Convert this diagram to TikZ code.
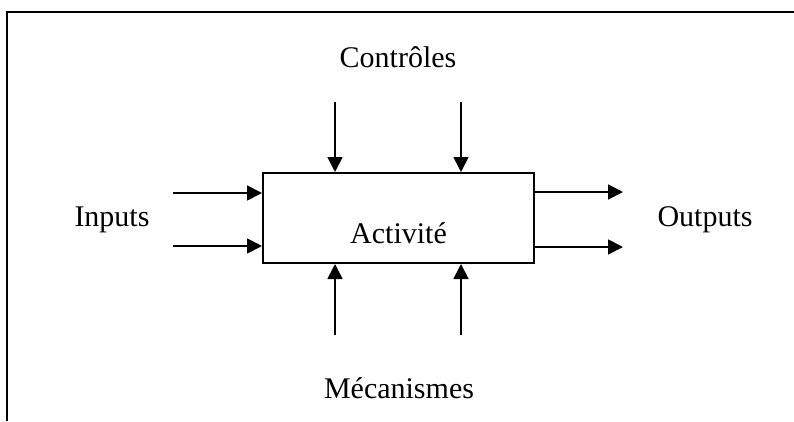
\documentclass[tikz,border=0pt]{standalone}
\usepackage{fontspec}
\setmainfont{Liberation Serif}
\usepackage{tikz}
\usetikzlibrary{arrows.meta}

\tikzset{
    flow/.style={line width=1.8pt, -{Triangle[length=15pt, width=15pt]}},
    lbl/.style={font=\fontsize{30}{36}\selectfont, inner sep=0pt}
}

\begin{document}
\begin{tikzpicture}[x=1pt, y=-1pt]
            \useasboundingbox (0, 0) rectangle (794, 421);
            % cadre
            \draw[line width=2.2pt] (7, 421) -- (7, 12) -- (794, 12);
            % activite
            \node[draw, line width=2pt, minimum width=271pt, minimum height=90pt, inner sep=0pt,
                  label={[lbl, yshift=-15pt]center:Activité}] (act) at (398.5, 218) {};
            \node[lbl] (ctrl) at (398, 57) {Contrôles};
            \node[lbl] (mec) at (399, 388) {Mécanismes};
            \node[lbl] (inp) at (112, 220) {Inputs};
            \node[lbl] (outp) at (705, 220) {Outputs};
            % extremites libres
            \coordinate (i1) at (173, 193);
            \coordinate (i2) at (173, 246);
            \coordinate (o1) at (623, 192);
            \coordinate (o2) at (623, 247);
            \coordinate (c1) at (335, 102);
            \coordinate (c2) at (461, 102);
            \coordinate (m1) at (335, 335);
            \coordinate (m2) at (461, 335);
            \draw[flow] (i1) -- (act.west |- i1);
            \draw[flow] (i2) -- (act.west |- i2);
            \draw[flow] (act.east |- o1) -- (o1);
            \draw[flow] (act.east |- o2) -- (o2);
            \draw[flow] (c1) -- (act.north -| c1);
            \draw[flow] (c2) -- (act.north -| c2);
            \draw[flow] (m1) -- (act.south -| m1);
            \draw[flow] (m2) -- (act.south -| m2);
        \end{tikzpicture}
\end{document}
